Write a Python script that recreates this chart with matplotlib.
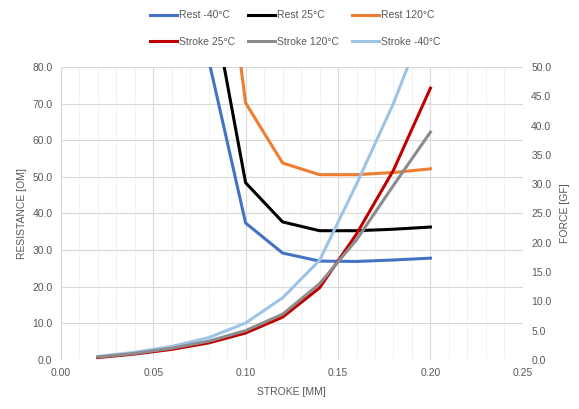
import matplotlib.pyplot as plt
from matplotlib.ticker import MultipleLocator, FormatStrFormatter

plt.rcParams['font.family'] = ['Liberation Sans', 'DejaVu Sans']

# stroke positions [mm]
stroke_mm = [0.02, 0.04, 0.06, 0.08, 0.10, 0.12, 0.14, 0.16, 0.18, 0.20]

# resistance at rest [OM] (left axis); early points run off the top of the scale
rest_m40 = [400, 300, 160, 82.0, 37.4, 29.2, 27.0, 26.9, 27.3, 27.8]
rest_25 = [450, 350, 200, 103.0, 48.4, 37.7, 35.3, 35.3, 35.7, 36.3]
rest_120 = [500, 400, 250, 148.0, 70.2, 53.8, 50.6, 50.6, 51.2, 52.2]

# force while stroking [gf] (right axis)
stroke_25 = [0.4, 1.0, 1.8, 2.9, 4.6, 7.3, 12.3, 21.5, 32.4, 46.4]
stroke_120 = [0.5, 1.1, 2.0, 3.2, 5.0, 7.8, 13.0, 20.5, 29.8, 38.9]
stroke_m40 = [0.6, 1.3, 2.3, 3.8, 6.3, 10.6, 17.0, 30.0, 43.8, 60.0]

txt = '#595959'

fig = plt.figure(figsize=(5.79, 4.09), dpi=100)
ax = fig.add_axes([0.105, 0.12, 0.798, 0.716])
ax2 = ax.twinx()

lw = 2.2
h_r40, = ax.plot(stroke_mm, rest_m40, color='#4472C4', lw=lw, label='Rest -40°C')
h_r25, = ax.plot(stroke_mm, rest_25, color='#000000', lw=lw, label='Rest 25°C')
h_r120, = ax.plot(stroke_mm, rest_120, color='#ED7D31', lw=lw, label='Rest 120°C')
h_sm40, = ax2.plot(stroke_mm, stroke_m40, color='#9DC3E6', lw=lw, label='Stroke -40°C')
h_s25, = ax2.plot(stroke_mm, stroke_25, color='#C00000', lw=lw, label='Stroke 25°C')
h_s120, = ax2.plot(stroke_mm, stroke_120, color='#8C8C8C', lw=lw, label='Stroke 120°C')

ax.set_xlim(0, 0.25)
ax.set_ylim(0, 80)
ax2.set_ylim(0, 50)

ax.xaxis.set_major_locator(MultipleLocator(0.05))
ax.xaxis.set_minor_locator(MultipleLocator(0.01))
ax.yaxis.set_major_locator(MultipleLocator(10))
ax2.yaxis.set_major_locator(MultipleLocator(5))
ax.xaxis.set_major_formatter(FormatStrFormatter('%.2f'))
ax.yaxis.set_major_formatter(FormatStrFormatter('%.1f'))
ax2.yaxis.set_major_formatter(FormatStrFormatter('%.1f'))

ax.grid(True, which='major', color='#D9D9D9', lw=0.8)
ax.grid(True, which='minor', axis='x', color='#F0F0F0', lw=0.6)
ax.set_axisbelow(True)

for a in (ax, ax2):
    for s in a.spines.values():
        s.set_visible(False)
    a.tick_params(which='both', length=0, colors=txt, labelsize=7.5, pad=6)

ax.set_xlabel('STROKE [MM]', color=txt, fontsize=7.5, labelpad=6)
ax.set_ylabel('RESISTANCE [OM]', color=txt, fontsize=7.5, labelpad=4)
ax2.set_ylabel('FORCE [GF]', color=txt, fontsize=7.5, labelpad=6)

# ncol=3 fills column by column, so interleave the two rows
handles = [h_r40, h_s25, h_r25, h_s120, h_r120, h_sm40]
fig.legend(handles=handles, labels=[h.get_label() for h in handles],
           loc='upper center', bbox_to_anchor=(0.51, 0.998), ncol=3,
           frameon=False, fontsize=7.5, handlelength=2.6, handletextpad=0.2,
           columnspacing=1.2, labelspacing=1.6, labelcolor=txt)

fig.savefig('out.png', dpi=100)
